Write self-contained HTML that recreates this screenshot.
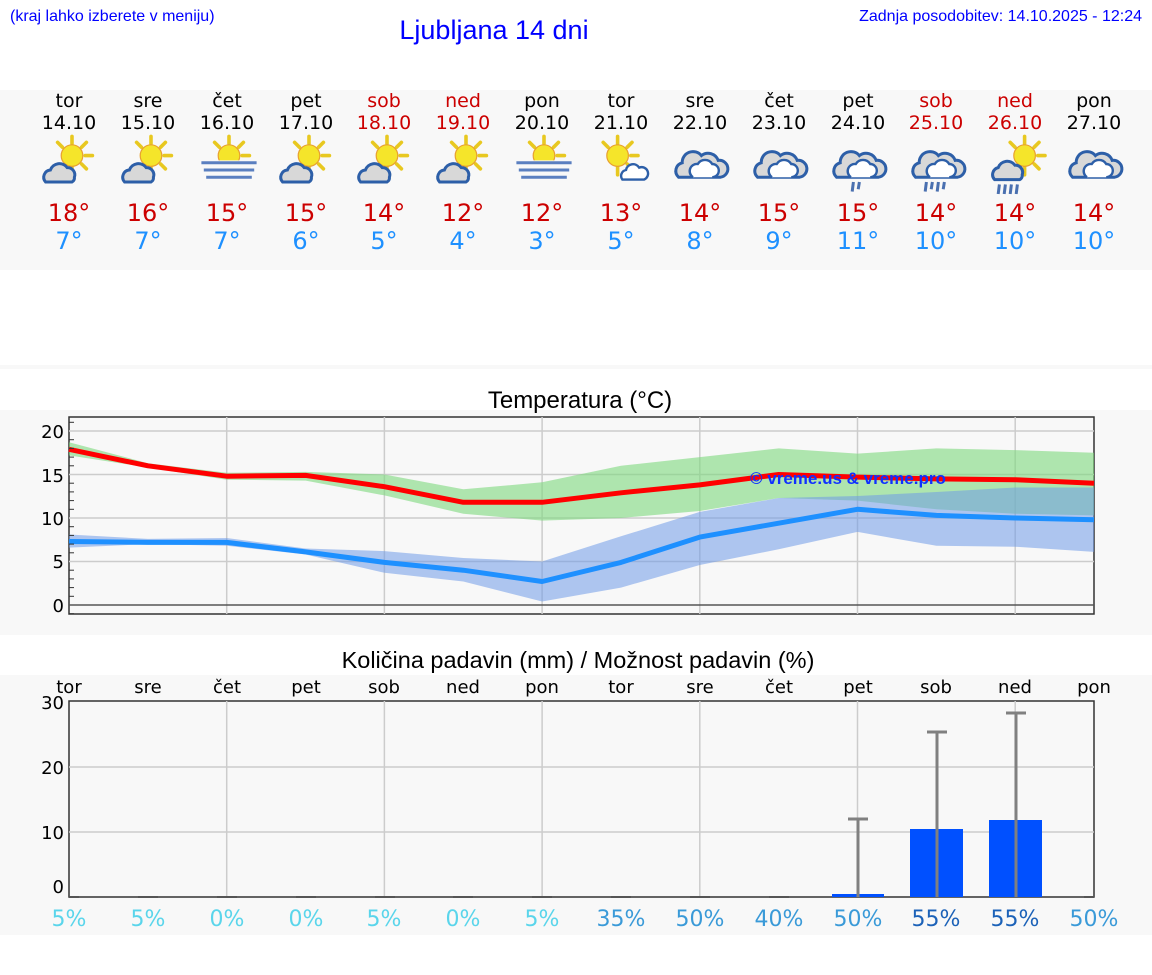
<!DOCTYPE html>
<html><head><meta charset="utf-8"><style>
body{margin:0;background:#fff;width:1152px;height:975px;overflow:hidden}
svg{display:block}
</style></head><body>
<svg width="1152" height="975" xmlns="http://www.w3.org/2000/svg" font-family="DejaVu Sans, sans-serif">
<defs>
<g id="sun">
<g stroke="#e8c820" stroke-width="3" stroke-linecap="round">
<line x1="30" y1="2" x2="30" y2="8"/><line x1="42" y1="7" x2="38" y2="11"/><line x1="47" y1="18" x2="41" y2="18"/><line x1="42" y1="29" x2="38" y2="25"/><line x1="18" y1="7" x2="22" y2="11"/><line x1="30" y1="34" x2="30" y2="28"/>
</g>
<circle cx="30" cy="18" r="9" fill="#f5e52a" stroke="#e8a030" stroke-width="1"/>
</g>
<g id="cloudS">
<path d="M8 40 a6 6 0 0 1 4-10 a8 8 0 0 1 14-2 a6 6 0 0 1 6 8 a4 4 0 0 1-2 4 z" fill="#d8d8d8" stroke="#2d5fa8" stroke-width="2.5"/>
</g>
<g id="sc"><use href="#sun"/><use href="#cloudS"/></g>
<g id="fog"><use href="#sun" transform="translate(-5,0)"/>
<rect x="0" y="22" width="50" height="30" fill="#f8f8f8"/>
<g stroke="#5a7fc0" stroke-width="2.5"><line x1="2" y1="24" x2="48" y2="24"/><line x1="4" y1="30" x2="46" y2="30"/><line x1="6" y1="36" x2="44" y2="36"/></g></g>
<g id="ssc"><use href="#sun" transform="translate(-12,0)"/>
<path d="M22 38 a5 5 0 0 1 3-8 a6 6 0 0 1 11-2 a5 5 0 0 1 4 10 z" fill="#fff" stroke="#2d5fa8" stroke-width="2"/></g>
<g id="cl">
<path d="M8 36 a7 7 0 0 1 3-12 a9 9 0 0 1 16-6 a9 9 0 0 1 14 4 a7 7 0 0 1 2 14 z" fill="#d8d8d8" stroke="#2d5fa8" stroke-width="2.5"/>
<path d="M20 36 a6 6 0 0 1 4-11 a7 7 0 0 1 12 0 a5 5 0 0 1 0 11" fill="#fff" stroke="#2d5fa8" stroke-width="2"/>
</g>
<g id="rain1"><use href="#cl"/><g stroke="#4a70b0" stroke-width="2.5"><line x1="22" y1="40" x2="21" y2="48"/><line x1="27" y1="40" x2="26" y2="46"/></g></g>
<g id="rain2"><use href="#cl"/><g stroke="#4a70b0" stroke-width="2.5"><line x1="17" y1="40" x2="16" y2="48"/><line x1="22" y1="40" x2="21" y2="46"/><line x1="27" y1="40" x2="26" y2="48"/><line x1="32" y1="40" x2="31" y2="46"/></g></g>
<g id="rain3"><use href="#sun" transform="translate(3,0)"/>
<path d="M8 38 a6 6 0 0 1 3-10 a8 8 0 0 1 14-2 a6 6 0 0 1 6 8 a4 4 0 0 1-2 4 z" fill="#d8d8d8" stroke="#2d5fa8" stroke-width="2.5"/>
<g stroke="#4a70b0" stroke-width="2.5"><line x1="12" y1="42" x2="11" y2="50"/><line x1="17" y1="42" x2="16" y2="50"/><line x1="22" y1="42" x2="21" y2="50"/><line x1="27" y1="42" x2="26" y2="50"/></g></g>
</defs>

<g font-family="Liberation Sans, sans-serif" fill="#0000ff">
<text x="10" y="21" font-size="16">(kraj lahko izberete v meniju)</text>
<text x="494" y="39" font-size="27" text-anchor="middle">Ljubljana 14 dni</text>
<text x="1142" y="21" font-size="16" text-anchor="end">Zadnja posodobitev: 14.10.2025 - 12:24</text>
</g>

<rect x="0" y="90" width="1152" height="180" fill="#f8f8f8"/>
<rect x="0" y="365" width="1152" height="4" fill="#f8f8f8"/>
<rect x="0" y="410" width="1152" height="225" fill="#f8f8f8"/>
<rect x="0" y="675" width="1152" height="260" fill="#f8f8f8"/>

<g font-size="19" text-anchor="middle" fill="#000">
<text x="69" y="107">tor</text><text x="148" y="107">sre</text><text x="227" y="107">čet</text><text x="306" y="107">pet</text><text x="384" y="107" fill="#cc0000">sob</text><text x="463" y="107" fill="#cc0000">ned</text><text x="542" y="107">pon</text><text x="621" y="107">tor</text><text x="700" y="107">sre</text><text x="779" y="107">čet</text><text x="858" y="107">pet</text><text x="936" y="107" fill="#cc0000">sob</text><text x="1015" y="107" fill="#cc0000">ned</text><text x="1094" y="107">pon</text>
<text x="69" y="129">14.10</text><text x="148" y="129">15.10</text><text x="227" y="129">16.10</text><text x="306" y="129">17.10</text><text x="384" y="129" fill="#cc0000">18.10</text><text x="463" y="129" fill="#cc0000">19.10</text><text x="542" y="129">20.10</text><text x="621" y="129">21.10</text><text x="700" y="129">22.10</text><text x="779" y="129">23.10</text><text x="858" y="129">24.10</text><text x="936" y="129" fill="#cc0000">25.10</text><text x="1015" y="129" fill="#cc0000">26.10</text><text x="1094" y="129">27.10</text>
</g>
<use href="#sc" transform="translate(36,134) scale(1.2)"/><use href="#sc" transform="translate(115,134) scale(1.2)"/><use href="#fog" transform="translate(199,134) scale(1.2)"/><use href="#sc" transform="translate(273,134) scale(1.2)"/><use href="#sc" transform="translate(351,134) scale(1.2)"/><use href="#sc" transform="translate(430,134) scale(1.2)"/><use href="#fog" transform="translate(514,134) scale(1.2)"/><use href="#ssc" transform="translate(596,134) scale(1.2)"/><use href="#cl" transform="translate(669,134) scale(1.2)"/><use href="#cl" transform="translate(748,134) scale(1.2)"/><use href="#rain1" transform="translate(827,134) scale(1.2)"/><use href="#rain2" transform="translate(906,134) scale(1.2)"/><use href="#rain3" transform="translate(985,134) scale(1.2)"/><use href="#cl" transform="translate(1063,134) scale(1.2)"/>

<g font-size="24" text-anchor="middle" fill="#cc0000">
<text x="69" y="221">18°</text><text x="148" y="221">16°</text><text x="227" y="221">15°</text><text x="306" y="221">15°</text><text x="384" y="221">14°</text><text x="463" y="221">12°</text><text x="542" y="221">12°</text><text x="621" y="221">13°</text><text x="700" y="221">14°</text><text x="779" y="221">15°</text><text x="858" y="221">15°</text><text x="936" y="221">14°</text><text x="1015" y="221">14°</text><text x="1094" y="221">14°</text>
</g>
<g font-size="24" text-anchor="middle" fill="#1e90ff">
<text x="69" y="249">7°</text><text x="148" y="249">7°</text><text x="227" y="249">7°</text><text x="306" y="249">6°</text><text x="384" y="249">5°</text><text x="463" y="249">4°</text><text x="542" y="249">3°</text><text x="621" y="249">5°</text><text x="700" y="249">8°</text><text x="779" y="249">9°</text><text x="858" y="249">11°</text><text x="936" y="249">10°</text><text x="1015" y="249">10°</text><text x="1094" y="249">10°</text>
</g>

<!-- Temperature chart -->
<text x="580" y="408" font-family="Liberation Sans, sans-serif" font-size="24" text-anchor="middle">Temperatura (°C)</text>
<rect x="69" y="417" width="1025" height="197" fill="#f8f8f8" stroke="#333" stroke-width="1.5"/>
<g stroke="#ccc" stroke-width="1.5">
<line x1="69" y1="431" x2="1094" y2="431"/><line x1="69" y1="474.5" x2="1094" y2="474.5"/><line x1="69" y1="518" x2="1094" y2="518"/><line x1="69" y1="561.5" x2="1094" y2="561.5"/>
<line x1="226.7" y1="417" x2="226.7" y2="614"/><line x1="384.4" y1="417" x2="384.4" y2="614"/><line x1="542.1" y1="417" x2="542.1" y2="614"/><line x1="699.8" y1="417" x2="699.8" y2="614"/><line x1="857.5" y1="417" x2="857.5" y2="614"/><line x1="1015.2" y1="417" x2="1015.2" y2="614"/>
</g>
<line x1="69" y1="605" x2="1094" y2="605" stroke="#555" stroke-width="1.5"/>
<polygon fill="#7dd87d" fill-opacity="0.6" points="69,442.3 147.9,463.2 226.7,472.8 305.6,471.9 384.4,474.5 463.3,489.3 542.1,482.3 621,465.8 699.8,457.1 778.7,448.4 857.5,453.6 936.4,448.4 1015.2,450.1 1094,452.8 1094,515.4 1015.2,513.7 936.4,509.3 857.5,500.6 778.7,498 699.8,511 621,518 542.1,520.6 463.3,513.7 384.4,495.4 305.6,480.6 226.7,479.7 147.9,467.5 69,455.4"/>
<polygon fill="#6f9be8" fill-opacity="0.55" points="69,534.5 147.9,538.9 226.7,538 305.6,548.5 384.4,551.1 463.3,558 542.1,561.5 621,536.3 699.8,511.9 778.7,498 857.5,496 936.4,492 1015.2,487.5 1094,487.5 1094,551.9 1015.2,546.7 936.4,545.8 857.5,531.9 778.7,549.3 699.8,565 621,587.6 542.1,601.5 463.3,581.5 384.4,572.8 305.6,554.5 226.7,545.8 147.9,544.1 69,547.6"/>
<polyline fill="none" stroke="#ff0000" stroke-width="5" stroke-linejoin="round" points="69,449.3 147.9,465.8 226.7,476.2 305.6,475.4 384.4,486.7 463.3,502.3 542.1,502.3 621,492.8 699.8,484.9 778.7,474.5 857.5,477.1 936.4,478.9 1015.2,479.7 1094,483.2"/>
<polyline fill="none" stroke="#1e90ff" stroke-width="5" stroke-linejoin="round" points="69,541.5 147.9,542.4 226.7,542.4 305.6,551.9 384.4,562.4 463.3,570.2 542.1,581.5 621,562.4 699.8,537.1 778.7,523.2 857.5,509.3 936.4,515.4 1015.2,518 1094,519.7"/>
<text x="750" y="484" font-family="Liberation Sans, sans-serif" font-weight="bold" font-size="17" fill="#1030ff">© vreme.us &amp; vreme.pro</text>
<g stroke="#333" stroke-width="1">
<line x1="69" y1="422.3" x2="74" y2="422.3"/><line x1="69" y1="439.7" x2="74" y2="439.7"/><line x1="69" y1="448.4" x2="74" y2="448.4"/><line x1="69" y1="457.1" x2="74" y2="457.1"/><line x1="69" y1="465.8" x2="74" y2="465.8"/><line x1="69" y1="483.2" x2="74" y2="483.2"/><line x1="69" y1="491.9" x2="74" y2="491.9"/><line x1="69" y1="500.6" x2="74" y2="500.6"/><line x1="69" y1="509.3" x2="74" y2="509.3"/><line x1="69" y1="526.7" x2="74" y2="526.7"/><line x1="69" y1="535.4" x2="74" y2="535.4"/><line x1="69" y1="544.1" x2="74" y2="544.1"/><line x1="69" y1="552.8" x2="74" y2="552.8"/><line x1="69" y1="570.2" x2="74" y2="570.2"/><line x1="69" y1="578.9" x2="74" y2="578.9"/><line x1="69" y1="587.6" x2="74" y2="587.6"/><line x1="69" y1="596.3" x2="74" y2="596.3"/><line x1="69" y1="613.7" x2="74" y2="613.7"/>
</g>
<g font-size="18" text-anchor="end">
<text x="64" y="438">20</text><text x="64" y="482">15</text><text x="64" y="525">10</text><text x="64" y="568">5</text><text x="64" y="612">0</text>
</g>

<!-- Precip chart -->
<text x="578" y="668" font-family="Liberation Sans, sans-serif" font-size="23.5" text-anchor="middle">Količina padavin (mm) / Možnost padavin (%)</text>
<g font-size="18" text-anchor="middle">
<text x="69" y="693">tor</text><text x="148" y="693">sre</text><text x="227" y="693">čet</text><text x="306" y="693">pet</text><text x="384" y="693">sob</text><text x="463" y="693">ned</text><text x="542" y="693">pon</text><text x="621" y="693">tor</text><text x="700" y="693">sre</text><text x="779" y="693">čet</text><text x="858" y="693">pet</text><text x="936" y="693">sob</text><text x="1015" y="693">ned</text><text x="1094" y="693">pon</text>
</g>
<rect x="69" y="701" width="1025" height="196" fill="#f8f8f8" stroke="#333" stroke-width="1.5"/>
<g stroke="#ccc" stroke-width="1.5">
<line x1="69" y1="767" x2="1094" y2="767"/><line x1="69" y1="832" x2="1094" y2="832"/>
<line x1="226.7" y1="701" x2="226.7" y2="897"/><line x1="384.4" y1="701" x2="384.4" y2="897"/><line x1="542.1" y1="701" x2="542.1" y2="897"/><line x1="699.8" y1="701" x2="699.8" y2="897"/><line x1="857.5" y1="701" x2="857.5" y2="897"/><line x1="1015.2" y1="701" x2="1015.2" y2="897"/>
</g>
<g font-size="18" text-anchor="end">
<text x="64" y="709">30</text><text x="64" y="774">20</text><text x="64" y="839">10</text><text x="64" y="893">0</text>
</g>
<g fill="#0050ff">
<rect x="832" y="894" width="52" height="3"/><rect x="910" y="829" width="53" height="68"/><rect x="989" y="820" width="53" height="77"/>
</g>
<g stroke="#808080" stroke-width="3">
<line x1="858" y1="819" x2="858" y2="897"/><line x1="848" y1="819" x2="868" y2="819"/>
<line x1="937" y1="732" x2="937" y2="897"/><line x1="927" y1="732" x2="947" y2="732"/>
<line x1="1016" y1="713" x2="1016" y2="897"/><line x1="1006" y1="713" x2="1026" y2="713"/>
</g>
<g stroke="#555" stroke-width="2">
<line x1="69" y1="897" x2="79" y2="897"/><line x1="138" y1="897" x2="158" y2="897"/><line x1="217" y1="897" x2="237" y2="897"/><line x1="296" y1="897" x2="316" y2="897"/><line x1="375" y1="897" x2="395" y2="897"/><line x1="453" y1="897" x2="473" y2="897"/><line x1="532" y1="897" x2="552" y2="897"/><line x1="611" y1="897" x2="631" y2="897"/><line x1="690" y1="897" x2="710" y2="897"/><line x1="769" y1="897" x2="789" y2="897"/><line x1="1084" y1="897" x2="1094" y2="897"/>
</g>
<g font-size="22" text-anchor="middle">
<g fill="#5ad5eb"><text x="69" y="926">5%</text><text x="148" y="926">5%</text><text x="227" y="926">0%</text><text x="306" y="926">0%</text><text x="384" y="926">5%</text><text x="463" y="926">0%</text><text x="542" y="926">5%</text></g>
<g fill="#3a9ad8"><text x="621" y="926">35%</text><text x="700" y="926">50%</text><text x="779" y="926">40%</text><text x="858" y="926">50%</text><text x="1094" y="926">50%</text></g>
<g fill="#1c62b8"><text x="936" y="926">55%</text><text x="1015" y="926">55%</text></g>
</g>
</svg>
</body></html>
